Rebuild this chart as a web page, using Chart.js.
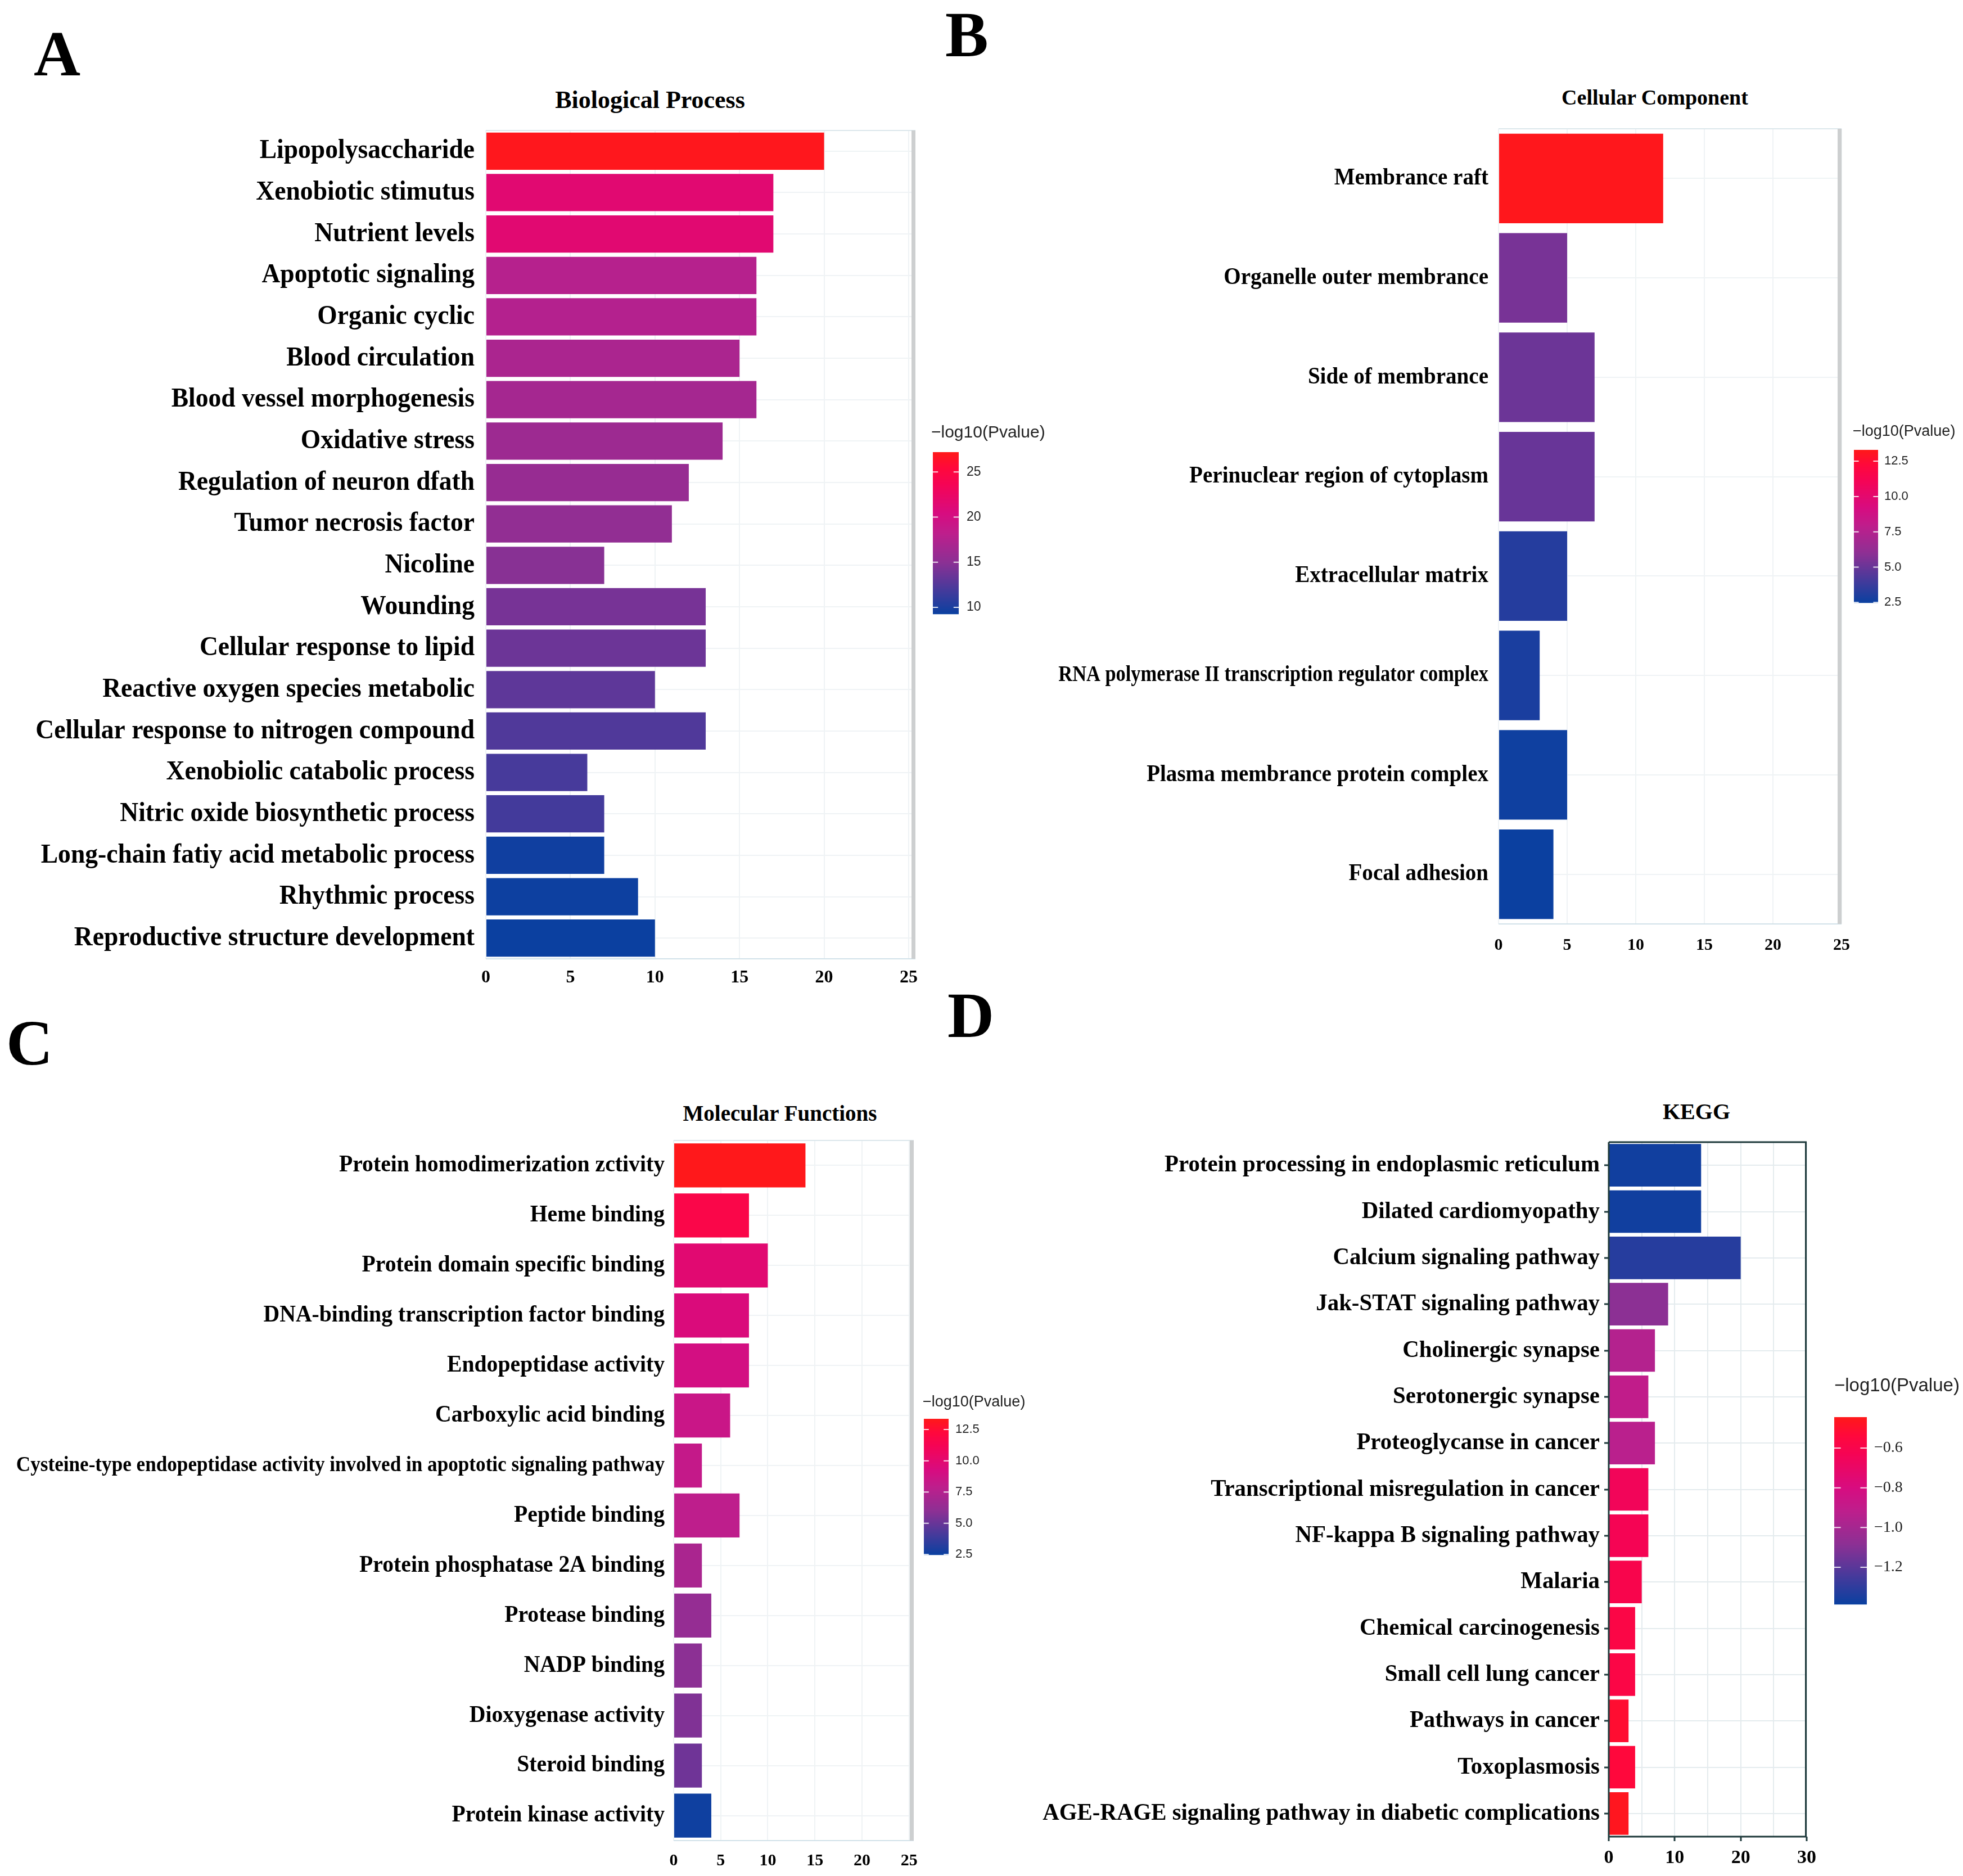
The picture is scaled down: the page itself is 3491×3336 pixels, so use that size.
<!DOCTYPE html>
<html><head><meta charset="utf-8">
<script src="https://cdn.jsdelivr.net/npm/chart.js@4.4.1/dist/chart.umd.min.js"></script>
<style>
html,body{margin:0;padding:0;background:#fff;}
body{width:3491px;height:3336px;position:relative;overflow:hidden;}
canvas{position:absolute;}
.t{position:absolute;font-family:'Liberation Serif','Times New Roman',serif;font-weight:bold;color:#000;line-height:1;white-space:nowrap;}
.c{text-align:center;width:1000px;}
</style></head><body>
<div class="t" style="left:60px;top:38px;font-size:115px">A</div>
<div class="t" style="left:1681px;top:4px;font-size:115px">B</div>
<div class="t" style="left:11px;top:1797px;font-size:115px">C</div>
<div class="t" style="left:1685px;top:1748px;font-size:115px">D</div>
<div class="t c" style="left:656px;top:156px;font-size:44px">Biological Process</div>
<div class="t c" style="left:2443px;top:154px;font-size:38px">Cellular Component</div>
<div class="t c" style="left:887px;top:1960px;font-size:39px">Molecular Functions</div>
<div class="t c" style="left:2517px;top:1957px;font-size:40px">KEGG</div>
<canvas id="cA"></canvas>
<canvas id="cB"></canvas>
<canvas id="cC"></canvas>
<canvas id="cD"></canvas>
<script>
// ---------------- data ----------------
const bpLabels = ["Lipopolysaccharide","Xenobiotic stimutus","Nutrient levels","Apoptotic signaling","Organic cyclic","Blood circulation","Blood vessel morphogenesis","Oxidative stress","Regulation of neuron dfath","Tumor necrosis factor","Nicoline","Wounding","Cellular response to lipid","Reactive oxygen species metabolic","Cellular response to nitrogen compound","Xenobiolic catabolic process","Nitric oxide biosynthetic process","Long-chain fatiy acid metabolic process","Rhythmic process","Reproductive structure development"];
const bpCounts = [20,17,17,16,16,15,16,14,12,11,7,13,13,10,13,6,7,7,9,10];
const bpLogP = [27.0,21.5,21.5,17.7,17.6,17.0,16.6,16.1,15.7,15.4,14.8,14.1,13.6,13.0,12.4,12.0,11.8,9.5,9.4,9.3];

const ccLabels = ["Membrance raft","Organelle outer membrance","Side of membrance","Perinuclear region of cytoplasm","Extracellular matrix","RNA polymerase II transcription regulator complex","Plasma membrance protein complex","Focal adhesion"];
const ccCounts = [12,5,7,7,5,3,5,4];
const ccLogP = [13.2,5.4,5.1,5.0,3.2,2.9,2.6,2.5];

const mfLabels = ["Protein homodimerization zctivity","Heme binding","Protein domain specific binding","DNA-binding transcription factor binding","Endopeptidase activity","Carboxylic acid binding","Cysteine-type endopeptidase activity involved in apoptotic signaling pathway","Peptide binding","Protein phosphatase 2A binding","Protease binding","NADP binding","Dioxygenase activity","Steroid binding","Protein kinase activity"];
const mfCounts = [14,8,10,8,8,6,3,7,3,4,3,3,3,4];
const mfLogP = [13.3,11.7,9.9,9.45,9.0,8.5,8.25,7.9,7.15,6.3,5.95,5.63,5.2,2.6];

const keggLabels = ["Protein processing in endoplasmic reticulum","Dilated cardiomyopathy","Calcium signaling pathway","Jak-STAT signaling pathway","Cholinergic synapse","Serotonergic synapse","Proteoglycanse in cancer","Transcriptional misregulation in cancer","NF-kappa B signaling pathway","Malaria","Chemical carcinogenesis","Small cell lung cancer","Pathways in cancer","Toxoplasmosis","AGE-RAGE signaling pathway in diabetic complications"];
const keggCounts = [14,14,20,9,7,6,7,6,6,5,4,4,3,4,3];
const keggLogP = [-1.37,-1.37,-1.32,-1.085,-0.95,-0.90,-0.93,-0.65,-0.63,-0.60,-0.576,-0.576,-0.51,-0.54,-0.46];

const xTicksGO = [0,5,10,15,20,25];
const xTicksKEGG = [0,10,20,30];
const legendTicksA = [10,15,20,25];
const legendTicksBC = [2.5,5,7.5,10,12.5];
const legendTicksD = [-0.6,-0.8,-1.0,-1.2];

// ---------------- colour scale ----------------
const STOPS=[[0,[10,64,160]],[0.15,[70,58,155]],[0.32,[140,48,148]],[0.5,[190,30,140]],[0.62,[215,12,128]],[0.8,[245,4,85]],[0.9,[255,8,60]],[1,[255,25,25]]];
function colorAt(v,min,max){
  let t=(v-min)/(max-min); t=Math.max(0,Math.min(1,t));
  for(let i=1;i<STOPS.length;i++){
    if(t<=STOPS[i][0]){
      const t0=STOPS[i-1][0],c0=STOPS[i-1][1],t1=STOPS[i][0],c1=STOPS[i][1];
      const f=(t-t0)/(t1-t0);
      return 'rgb('+c0.map((c,k)=>Math.round(c+(c1[k]-c)*f)).join(',')+')';
    }
  }
  return 'rgb(255,25,25)';
}

// ---------------- plugins ----------------
const catLabelPlugin={
  id:'catLabels',
  afterDraw(chart,args,o){
    const ys=chart.scales.y, ctx=chart.ctx;
    ctx.save();
    ctx.fillStyle='#000'; ctx.textAlign='right'; ctx.textBaseline='middle';
    chart.data.labels.forEach((lab,i)=>{
      const y=ys.getPixelForValue(i);
      const sp=(o.special&&o.special[lab])||{};
      const size=sp.size||o.size, sx=sp.sx||o.sx;
      ctx.save();
      ctx.translate(chart.chartArea.left-o.gap,y+o.dy);
      ctx.scale(sx,1);
      ctx.font='bold '+size+'px "Liberation Serif", "Times New Roman", serif';
      ctx.fillText(lab,0,0);
      ctx.restore();
    });
    ctx.restore();
  }
};
const framePlugin={
  id:'frame',
  afterDatasetsDraw(chart,args,o){
    const a=chart.chartArea, ctx=chart.ctx;
    ctx.save();
    const line=(s,x1,y1,x2,y2)=>{if(!s)return;ctx.strokeStyle=s.color;ctx.lineWidth=s.width;ctx.beginPath();ctx.moveTo(x1,y1);ctx.lineTo(x2,y2);ctx.stroke();};
    line(o.top,a.left,a.top,a.right,a.top);
    line(o.bottom,a.left,a.bottom,a.right,a.bottom);
    line(o.left,a.left,a.top,a.left,a.bottom);
    if(o.right){const w=o.right.width;line(o.right,a.right-w/2,a.top,a.right-w/2,a.bottom);}
    ctx.restore();
  }
};
const colorbarPlugin={
  id:'colorbar',
  afterDraw(chart,args,o){
    const ctx=chart.ctx;
    const x=o.x-o.ox, y=o.y-o.oy, w=o.w, h=o.h;
    ctx.save();
    for(let i=0;i<h;i++){
      const v=o.max-(i+0.5)/h*(o.max-o.min);
      ctx.fillStyle=colorAt(v,o.min,o.max);
      ctx.fillRect(x,y+i,w,1.2);
    }
    ctx.font=o.tickFont; ctx.fillStyle='#222'; ctx.textAlign='left'; ctx.textBaseline='middle';
    o.ticks.forEach(tv=>{
      const py=y+(o.max-tv)/(o.max-o.min)*h;
      ctx.strokeStyle='rgba(255,255,255,0.85)'; ctx.lineWidth=2;
      ctx.beginPath(); ctx.moveTo(x,py); ctx.lineTo(x+w*0.2,py); ctx.moveTo(x+w*0.8,py); ctx.lineTo(x+w,py); ctx.stroke();
      ctx.fillText(o.fmt(tv),o.labelX-o.ox,py);
    });
    ctx.font=o.titleFont; ctx.fillStyle='#222';
    ctx.fillText('\u2212log10(Pvalue)',o.titleX-o.ox,o.titleY-o.oy);
    ctx.restore();
  }
};

// ---------------- panel builder ----------------
function makePanel(id,p){
  const cv=document.getElementById(id);
  cv.width=p.box.w; cv.height=p.box.h;
  cv.style.left=p.box.x+'px'; cv.style.top=p.box.y+'px';
  const xH=60;
  const yW=p.plot.l-p.box.x;
  const padTop=p.plot.t-p.box.y;
  const padRight=p.box.x+p.box.w-p.plot.r;
  const padBottom=p.box.y+p.box.h-p.plot.b-xH;
  const tickSet=new Set(p.xTicks);
  new Chart(cv,{
    type:'bar',
    data:{labels:p.labels,datasets:[{data:p.values,
      backgroundColor:p.logp.map(v=>colorAt(v,p.cmin,p.cmax)),
      borderWidth:0,barPercentage:p.barPct,categoryPercentage:1}]},
    options:{
      indexAxis:'y',responsive:false,animation:false,devicePixelRatio:1,
      layout:{padding:{left:0,top:padTop,right:padRight,bottom:padBottom}},
      plugins:{
        legend:{display:false},tooltip:{enabled:false},
        catLabels:p.catLabels,
        frame:p.frame,
        colorbar:Object.assign({ox:p.box.x,oy:p.box.y},p.colorbar)
      },
      scales:{
        x:{type:'linear',min:0,max:p.xmax,
          afterFit:s=>{s.height=xH;},
          ticks:{stepSize:5,includeBounds:false,color:'#000',padding:p.xPad,
            font:{family:'"Liberation Serif","Times New Roman",serif',size:p.xFont,weight:'bold'},
            callback:v=>tickSet.has(v)?String(v):''},
          grid:{color:p.gridColor,lineWidth:2,drawTicks:p.xTickMarks,tickLength:8,tickWidth:3,
            tickColor:c=>(c.tick&&tickSet.has(c.tick.value))?p.tickColor:'rgba(0,0,0,0)'},
          border:{display:false}},
        y:{afterFit:s=>{s.width=yW;},
          ticks:{display:false},
          grid:{offset:false,color:p.gridColor,lineWidth:2,drawTicks:p.yTickMarks,tickLength:8,tickWidth:3,tickColor:p.tickColor},
          border:{display:false}}
      }
    },
    plugins:[framePlugin,catLabelPlugin,colorbarPlugin]
  });
}

const lightFrame={top:{color:'#DCE7EC',width:2},bottom:{color:'#D2E2E9',width:2},right:{color:'#CDCFD0',width:7}};
const darkFrame={top:{color:'#1F3A3C',width:3},bottom:{color:'#1F3A3C',width:3},left:{color:'#1F3A3C',width:3},right:{color:'#1F3A3C',width:3}};
const sansTick=s=>s+'px "Liberation Sans", Arial, sans-serif';

makePanel('cA',{
  box:{x:0,y:0,w:1880,h:1790}, plot:{l:864,r:1628,t:232,b:1705},
  labels:bpLabels, values:bpCounts, logp:bpLogP, cmin:9.25, cmax:27.2,
  xmax:25.4, xTicks:xTicksGO, xFont:32, xPad:15, barPct:0.9,
  gridColor:'#EFF3F5', tickColor:'#000', xTickMarks:false, yTickMarks:false,
  catLabels:{size:49,sx:0.93,gap:20,dy:0},
  frame:lightFrame,
  colorbar:{x:1659,y:804,w:46,h:288,min:9.25,max:27.2,ticks:legendTicksA,fmt:v=>String(v),
    labelX:1719,titleX:1656,titleY:770,tickFont:sansTick(23),titleFont:sansTick(30)}
});
makePanel('cB',{
  box:{x:1750,y:0,w:1741,h:1790}, plot:{l:2665,r:3275,t:229,b:1643},
  labels:ccLabels, values:ccCounts, logp:ccLogP, cmin:2.47, cmax:13.3,
  xmax:25, xTicks:xTicksGO, xFont:30, xPad:20, barPct:0.9,
  gridColor:'#EFF3F5', tickColor:'#000', xTickMarks:false, yTickMarks:false,
  catLabels:{size:42,sx:0.93,gap:18,dy:0,special:{"RNA polymerase II transcription regulator complex":{size:40,sx:0.86}}},
  frame:lightFrame,
  colorbar:{x:3297,y:800,w:43,h:272,min:2.47,max:13.3,ticks:legendTicksBC,fmt:v=>v.toFixed(1),
    labelX:3351,titleX:3295,titleY:768,tickFont:sansTick(22),titleFont:sansTick(27)}
});
makePanel('cC',{
  box:{x:0,y:1790,w:1880,h:1546}, plot:{l:1198,r:1625,t:2028,b:3273},
  labels:mfLabels, values:mfCounts, logp:mfLogP, cmin:2.47, cmax:13.36,
  xmax:25.5, xTicks:xTicksGO, xFont:30, xPad:18, barPct:0.88,
  gridColor:'#EFF3F5', tickColor:'#000', xTickMarks:false, yTickMarks:false,
  catLabels:{size:42,sx:0.945,gap:16,dy:0,special:{"Cysteine-type endopeptidase activity involved in apoptotic signaling pathway":{size:38,sx:0.925}}},
  frame:lightFrame,
  colorbar:{x:1643,y:2523,w:44,h:242,min:2.47,max:13.36,ticks:legendTicksBC,fmt:v=>v.toFixed(1),
    labelX:1699,titleX:1641,titleY:2494,tickFont:sansTick(22),titleFont:sansTick(27)}
});
makePanel('cD',{
  box:{x:1750,y:1790,w:1741,h:1546}, plot:{l:2861,r:3213,t:2031,b:3266},
  labels:keggLabels, values:keggCounts, logp:keggLogP, cmin:-1.387, cmax:-0.444,
  xmax:30, xTicks:xTicksKEGG, xFont:34, xPad:10, barPct:0.92,
  gridColor:'#E4EBEE', tickColor:'#1F3A3C', xTickMarks:true, yTickMarks:true,
  catLabels:{size:43,sx:0.95,gap:16,dy:0},
  frame:darkFrame,
  colorbar:{x:3262,y:2520,w:58,h:333,min:-1.387,max:-0.444,ticks:legendTicksD,fmt:v=>v.toFixed(1).replace('-','\u2212'),
    labelX:3333,titleX:3262,titleY:2465,tickFont:'28px "Liberation Serif", "Times New Roman", serif',titleFont:sansTick(33)}
});
</script>
</body></html>
